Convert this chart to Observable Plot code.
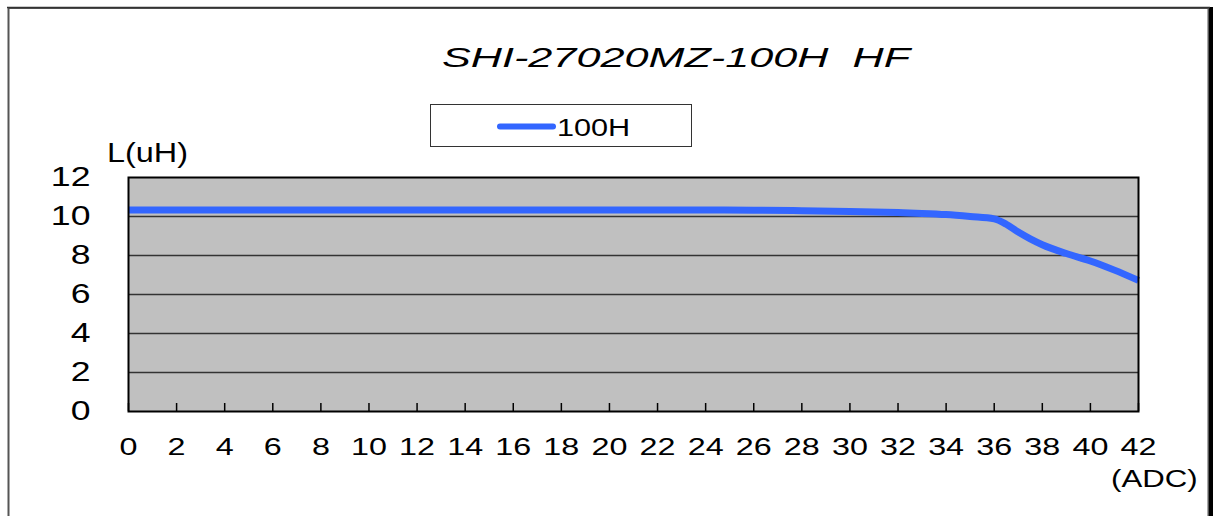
<!DOCTYPE html>
<html>
<head>
<meta charset="utf-8">
<script src="https://cdn.jsdelivr.net/npm/d3@7"></script>
<script src="https://cdn.jsdelivr.net/npm/@observablehq/plot@0.6"></script>
<style>
  html, body { margin: 0; padding: 0; background: #fff; }
  #chart { width: 1213px; height: 516px; overflow: hidden; }
  svg { display: block; }
</style>
</head>
<body>
<div id="chart"></div>
<script>
// ---- data ----
const titleText = "SHI-27020MZ-100H  HF";
const seriesName = "100H";
const yAxisLabel = "L(uH)";
const xAxisLabel = "(ADC)";
const currentA = [0, 2, 4, 6, 8, 10, 12, 14, 16, 18, 20, 22, 24, 26, 28, 30, 32, 33, 34, 35, 36, 36.5, 37, 37.5, 38, 39, 40, 41, 42];
const inductanceUH = [10.33, 10.33, 10.33, 10.33, 10.33, 10.33, 10.33, 10.33, 10.33, 10.33, 10.33, 10.33, 10.33, 10.32, 10.3, 10.26, 10.2, 10.16, 10.1, 10.0, 9.88, 9.6, 9.2, 8.85, 8.55, 8.1, 7.72, 7.25, 6.72];
const xTicks = d3.range(0, 43, 2);
const yTicks = [0, 2, 4, 6, 8, 10, 12];
const yGrid = [2, 4, 6, 8, 10];

const data = currentA.map((x, i) => ({x, y: inductanceUH[i]}));
const FONT = "'Liberation Sans', Arial, sans-serif";
const BLUE = "#3366ff";

const chart = Plot.plot({
  width: 1213,
  height: 516,
  marginLeft: 128,
  marginRight: 75,
  marginTop: 177,
  marginBottom: 105,
  style: {fontFamily: FONT, color: "#000", background: "transparent"},
  x: {domain: [0, 42]},
  y: {domain: [0, 12]},
  marks: [
    Plot.frame({fill: "#c0c0c0", stroke: null}),
    Plot.gridY(yGrid, {stroke: "#333", strokeOpacity: 1, strokeWidth: 1.5}),
    Plot.axisY({ticks: yTicks, tickSize: 0, tickPadding: 38, fontSize: 27, label: null}),
    Plot.axisX({ticks: xTicks, tickSize: -8, tickPadding: 34, fontSize: 24.5, strokeWidth: 1.5, label: null}),
    Plot.line(data, {x: "x", y: "y", stroke: BLUE, strokeWidth: 7, curve: "monotone-x", strokeLinecap: "butt"}),
    Plot.frame({stroke: "#000", strokeWidth: 2})
  ]
});

document.getElementById("chart").appendChild(chart);
const svg = d3.select(chart);

// horizontal stretch of tick labels (reference text is wide)
function stretch(sel, k) {
  sel.each(function() {
    const t = this.getAttribute("transform") || "";
    this.setAttribute("transform", t + ` scale(${k},1)`);
  });
}
stretch(svg.selectAll('g[aria-label="x-axis tick label"] text'), 1.32);
stretch(svg.selectAll('g[aria-label="y-axis tick label"] text'), 1.32);

// outer frame
svg.append("rect").attr("x", 8.5).attr("y", 8).attr("width", 1200).attr("height", 600)
  .attr("fill", "none").attr("stroke", "#555").attr("stroke-width", 2);
svg.append("rect").attr("x", 1209).attr("y", 7).attr("width", 4).attr("height", 600).attr("fill", "#000");
svg.append("line").attr("x1", 7).attr("x2", 1210).attr("y1", 7.5).attr("y2", 7.5)
  .attr("stroke", "#333").attr("stroke-width", 1.5);

// title
svg.append("text").text(titleText)
  .attr("transform", "translate(676,67) scale(1.6,1)")
  .attr("text-anchor", "middle")
  .style("font-family", FONT).style("font-style", "italic").style("font-size", "27px")
  .attr("fill", "#000").attr("xml:space", "preserve").style("white-space", "pre");

// legend
svg.append("rect").attr("x", 430.5).attr("y", 104.5).attr("width", 261).attr("height", 42)
  .attr("fill", "#fff").attr("stroke", "#333").attr("stroke-width", 1);
svg.append("line").attr("x1", 500).attr("x2", 553).attr("y1", 126.5).attr("y2", 126.5)
  .attr("stroke", BLUE).attr("stroke-width", 6).attr("stroke-linecap", "round");
svg.append("text").text(seriesName)
  .attr("transform", "translate(557,135.5) scale(1.25,1)")
  .attr("text-anchor", "start")
  .style("font-family", FONT).style("font-size", "24.5px").attr("fill", "#000");

// axis labels
svg.append("text").text(yAxisLabel)
  .attr("transform", "translate(107,162) scale(1.2,1)")
  .attr("text-anchor", "start")
  .style("font-family", FONT).style("font-size", "27px").attr("fill", "#000");
svg.append("text").text(xAxisLabel)
  .attr("transform", "translate(1111,487) scale(1.3,1)")
  .attr("text-anchor", "start")
  .style("font-family", FONT).style("font-size", "24px").attr("fill", "#000");
</script>
</body>
</html>
